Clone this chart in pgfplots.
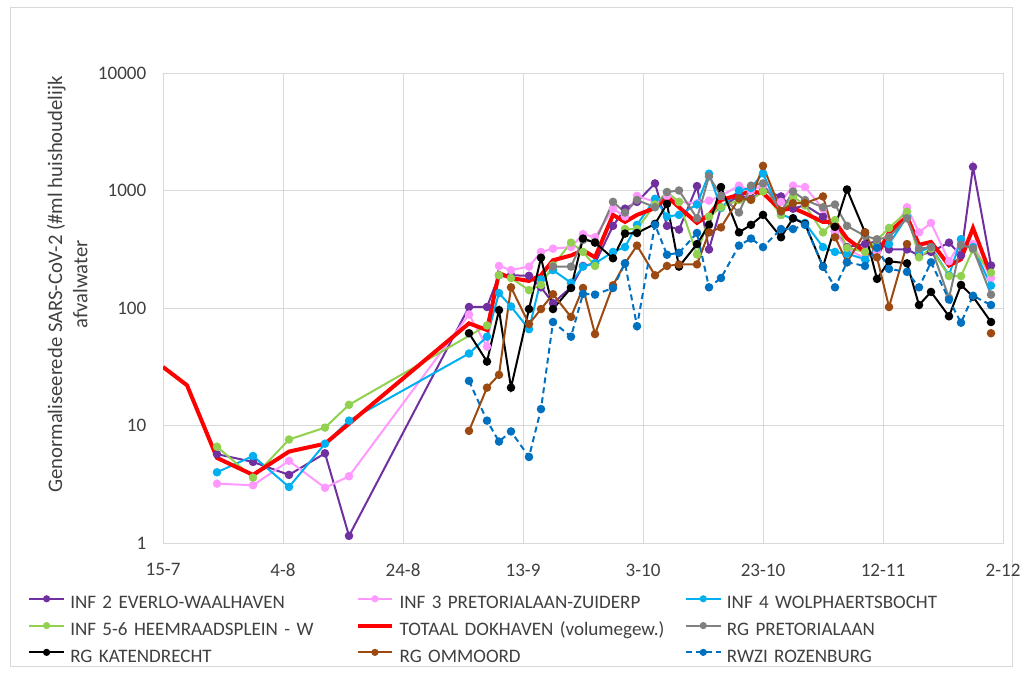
\documentclass[border=0pt]{standalone}
\usepackage{fontspec}
\setmainfont{Carlito}
\usepackage{pgfplots}
\pgfplotsset{compat=1.18}

\definecolor{cpurple}{HTML}{7030A0}
\definecolor{cpink}{HTML}{FF99FF}
\definecolor{ccyan}{HTML}{00B0F0}
\definecolor{cgreen}{HTML}{92D050}
\definecolor{cgray}{HTML}{808080}
\definecolor{cbrown}{HTML}{9C4A12}
\definecolor{cblue}{HTML}{0070C0}
\definecolor{gridc}{HTML}{D9D9D9}
\definecolor{txt}{HTML}{404040}
% strut that fixes the legend row height
\newcommand\ls{\rule[-6.4pt]{0pt}{23pt}}

\begin{document}
\begin{tikzpicture}
\path[use as bounding box] (0,0) rectangle (765.75pt,504pt);
\draw[gridc, line width=0.75pt] (7.5pt,4.5pt) rectangle (759pt,498pt);
\begin{axis}[
  at={(122.25pt,96.75pt)}, anchor=south west,
  scale only axis, width=630pt, height=352.5pt,
  ymode=log, xmin=0, xmax=140, ymin=1, ymax=10000,
  xtick={0,20,...,140},
  xticklabels={15-7,4-8,24-8,13-9,3-10,23-10,12-11,2-12},
  ytick={1,10,100,1000,10000},
  yticklabels={1,10,100,1000,10000},
  yminorticks=false,
  grid=major,
  major grid style={gridc, line width=0.75pt},
  axis line style={gridc, line width=0.75pt},
  major tick length=0pt,
  tick label style={font=\fontsize{14.3}{16}\selectfont, text=txt},
  xticklabel style={yshift=-12pt},
  yticklabel style={xshift=-9pt},
  ylabel={Genormaliseerede SARS-CoV-2 (\#ml huishoudelijk\\afvalwater},
  ylabel style={align=center, font=\fontsize{15.5}{19}\selectfont, text=txt,
    at={(axis description cs:-0.114,0.55)}, anchor=center},
  unbounded coords=jump,
  every axis plot/.append style={line width=1.5pt, mark size=2.4pt},
  legend columns=3,
  legend cell align=left,
  legend style={
    at={(axis description cs:-0.1607,-0.0896)}, anchor=north west,
    draw=none, fill=none, inner sep=0pt,
    font=\fontsize{14.3}{16}\selectfont, text=txt,
    nodes={inner sep=1pt, text width=213pt},
    /tikz/every odd column/.append style={column sep=3pt},
  },
  legend image code/.code={\draw[mark repeat=2,mark phase=2,#1,mark size=1.9pt]
    plot coordinates {(0pt,0pt) (13pt,0pt) (26pt,0pt)};},
]
% INF 2 EVERLO-WAALHAVEN
\addplot[cpurple, mark=*] coordinates {
 (9,5.7)(15,4.9)(21,3.8)(27,5.8)(31,1.15)
 (51,102)(54,102)(56,190)(58,190)(61,188)(63,150)(65,110)(68,150)(70,228)(72,240)
 (75,500)(77,700)(79,800)(82,1150)(84,500)(86,465)(89,1090)(91,315)(93,720)(96,900)
 (98,850)(100,1000)(103,890)(105,700)(107,750)(110,600)(112,450)(114,330)(117,350)(119,370)
 (121,315)(124,315)(126,280)(128,300)(131,360)(133,280)(135,1590)(138,230)};
\addlegendentry{\ls INF 2 EVERLO-WAALHAVEN}
% INF 3 PRETORIALAAN-ZUIDERP
\addplot[cpink, mark=*] coordinates {
 (9,3.2)(15,3.1)(21,5.0)(27,2.95)(31,3.7)
 (51,88)(54,47)(56,228)(58,210)(61,225)(63,300)(65,320)(68,330)(70,425)(72,400)
 (75,700)(77,600)(79,900)(82,800)(84,900)(86,800)(89,780)(91,820)(93,900)(96,1100)
 (98,1000)(100,1100)(103,800)(105,1100)(107,1070)(110,700)(112,450)(114,320)(117,265)(119,300)
 (121,400)(124,720)(126,440)(128,530)(131,250)(133,365)(135,350)(138,180)};
\addlegendentry{\ls INF 3 PRETORIALAAN-ZUIDERP}
% INF 4 WOLPHAERTSBOCHT
\addplot[ccyan, mark=*] coordinates {
 (9,4.0)(15,5.5)(21,3.0)(27,7.0)(31,11)
 (51,41)(54,57)(56,134)(58,103)(61,66)(63,175)(65,210)(68,164)(70,225)(72,240)
 (75,300)(77,330)(79,510)(82,850)(84,600)(86,620)(89,760)(91,1390)(93,710)(96,1000)
 (98,1050)(100,1400)(103,620)(105,580)(107,530)(110,330)(112,300)(114,290)(117,260)(119,330)
 (121,350)(124,600)(126,300)(128,330)(131,190)(133,385)(135,330)(138,155)};
\addlegendentry{\ls INF 4 WOLPHAERTSBOCHT}
% INF 5-6 HEEMRAADSPLEIN - W
\addplot[cgreen, mark=*] coordinates {
 (9,6.6)(15,3.6)(21,7.6)(27,9.6)(31,15)
 (54,71)(56,190)(58,180)(61,142)(63,157)(65,230)(68,360)(70,300)(72,228)
 (75,nan)(77,470)(79,470)(82,760)(84,970)(86,800)(89,285)(91,600)(93,720)(96,830)
 (98,830)(100,980)(103,620)(105,890)(107,750)(110,440)(112,560)(114,325)(117,300)(119,380)
 (121,480)(124,660)(126,270)(128,320)(131,187)(133,187)(135,315)(138,200)};
\addlegendentry{\ls INF 5-6 HEEMRAADSPLEIN - W}
% TOTAAL DOKHAVEN
\addplot[red, line width=3pt, mark=none] coordinates {
 (0,31.5)(4,22)(9,5.3)(15,3.8)(21,6.0)(27,7.0)
 (51,74)(54,65)(56,198)(58,180)(61,170)(63,190)(65,255)(68,280)(70,310)(72,270)
 (75,620)(77,540)(79,620)(82,710)(84,890)(86,720)(89,530)(91,620)(93,830)(96,920)
 (98,980)(100,950)(103,680)(105,710)(107,640)(110,540)(112,540)(114,390)(117,300)(119,280)
 (121,440)(124,600)(126,345)(128,365)(131,230)(133,260)(135,480)(138,190)};
\addlegendentry{\ls TOTAAL DOKHAVEN (volumegew.)}
% RG PRETORIALAAN
\addplot[cgray, mark=*] coordinates {
 (65,225)(68,225)(70,380)(72,365)
 (75,800)(77,650)(79,830)(82,720)(84,970)(86,1000)(89,580)(91,1320)(93,900)(96,650)
 (98,1100)(100,1150)(103,660)(105,980)(107,830)(110,720)(112,760)(114,500)(117,410)(119,385)
 (121,400)(124,580)(126,320)(128,330)(131,122)(133,345)(135,320)(138,130)};
\addlegendentry{\ls RG PRETORIALAAN}
% RG KATENDRECHT
\addplot[black, mark=*] coordinates {
 (51,61)(54,35)(56,96)(58,21)(61,98)(63,268)(65,98)(68,148)(70,390)(72,360)
 (75,265)(77,430)(79,435)(82,520)(84,770)(86,225)(89,350)(91,510)(93,1070)(96,440)
 (98,510)(100,620)(103,400)(105,580)(107,520)(110,225)(112,490)(114,1020)(117,440)(119,177)
 (121,250)(124,240)(126,106)(128,137)(131,85)(133,157)(135,125)(138,76)};
\addlegendentry{\ls RG KATENDRECHT}
% RG OMMOORD
\addplot[cbrown, mark=*] coordinates {
 (51,9)(54,21)(56,27)(58,150)(61,73)(63,98)(65,131)(68,84)(70,148)(72,60)
 (75,156)(77,240)(79,340)(82,190)(84,228)(86,235)(89,235)(91,440)(93,485)(96,855)
 (98,835)(100,1620)(103,670)(105,780)(107,780)(110,890)(112,400)(114,245)(117,440)(119,270)
 (121,102)(124,350)(126,nan)(138,61)};
\addlegendentry{\ls RG OMMOORD}
% RWZI ROZENBURG
\addplot[cblue, mark=*, dash pattern=on 4.5pt off 3pt, mark options={solid}] coordinates {
 (51,24)(54,11)(56,7.3)(58,8.9)(61,5.4)(63,13.8)(65,76)(68,57)(70,132)(72,130)
 (75,148)(77,240)(79,70)(82,510)(84,284)(86,295)(89,435)(91,150)(93,180)(96,340)
 (98,390)(100,330)(103,470)(105,470)(107,510)(110,225)(112,150)(114,245)(117,228)(119,325)
 (121,215)(124,203)(126,150)(128,245)(131,118)(133,75)(135,127)(138,106)};
\addlegendentry{\ls RWZI ROZENBURG}
\end{axis}
\end{tikzpicture}
\end{document}
